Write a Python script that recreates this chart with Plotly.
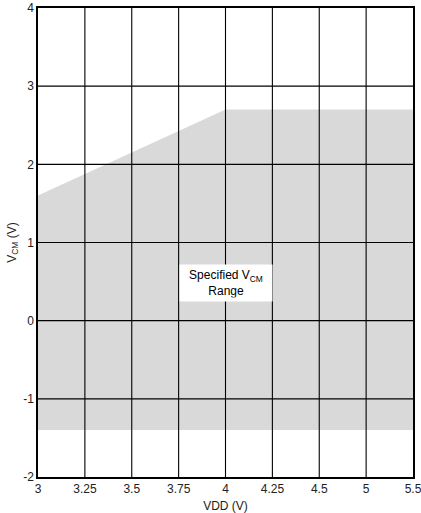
import numpy as np
import plotly.graph_objects as go

# Specified common-mode range boundaries (VDD in volts, VCM in volts)
vdd_upper = [3.0, 4.0, 5.5]
vcm_upper = [1.6, 2.7, 2.7]
vdd_lower = [5.5, 3.0]
vcm_lower = [-1.4, -1.4]

# The VDD axis places these tick values at equal spacing
x_ticks = [3, 3.25, 3.5, 3.75, 4, 4.25, 4.5, 5, 5.5]
y_ticks = [-2, -1, 0, 1, 2, 3, 4]

tick_pos = np.arange(len(x_ticks))


def xpos(v):
    return list(np.interp(v, x_ticks, tick_pos))


fig = go.Figure()
fig.add_trace(go.Scatter(
    x=xpos(vdd_upper + vdd_lower), y=vcm_upper + vcm_lower,
    fill="toself", fillcolor="#d9d9d9", mode="none",
    hoverinfo="skip", showlegend=False))

gx, gy = [], []
for p in tick_pos[1:-1]:
    gx += [p, p, None]
    gy += [y_ticks[0], y_ticks[-1], None]
for v in y_ticks[1:-1]:
    gx += [tick_pos[0], tick_pos[-1], None]
    gy += [v, v, None]
fig.add_trace(go.Scatter(x=gx, y=gy, mode="lines",
                         line=dict(color="black", width=1.1),
                         hoverinfo="skip", showlegend=False))

fig.add_annotation(x=xpos([4.0])[0], y=0.48, xref="x", yref="y",
                   text="Specified V<sub>CM</sub><br>Range",
                   showarrow=False, bgcolor="white",
                   font=dict(family="Liberation Sans, Arial", size=12, color="black"),
                   borderpad=3, width=86)

font = dict(family="Liberation Sans, Arial", size=12, color="#222")
axis_common = dict(showgrid=False, zeroline=False, showline=True, linecolor="black",
                   linewidth=1.5, mirror=True, ticks="", automargin=False,
                   ticklabeloverflow="allow", tickfont=font)
fig.update_xaxes(range=[tick_pos[0], tick_pos[-1]], tickmode="array", tickvals=list(tick_pos),
                 ticktext=[str(t) for t in x_ticks],
                 title=dict(text="VDD (V)", standoff=6, font=font),
                 **axis_common)
fig.update_yaxes(range=[-2, 4], tickmode="array", tickvals=y_ticks,
                 ticktext=[str(t) for t in y_ticks],
                 title=dict(text="V<sub>CM</sub> (V)", standoff=4, font=font),
                 **axis_common)

fig.update_layout(width=421, height=513, margin=dict(l=38, r=8, t=8, b=36),
                  plot_bgcolor="white", paper_bgcolor="white")
fig.write_html("out.html", config={"displayModeBar": False},
               post_script="document.body.style.margin='0';document.body.style.overflow='hidden';")
